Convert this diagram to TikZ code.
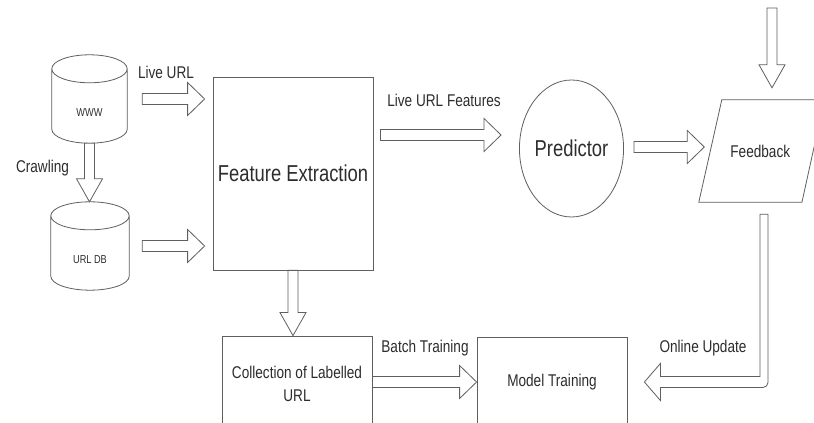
\documentclass[tikz,border=0pt]{standalone}
\usepackage{fontspec}
\setmainfont{Liberation Sans}[FakeStretch=0.8]
\usetikzlibrary{calc,shapes.geometric}
\definecolor{ln}{RGB}{95,95,95}
\definecolor{tx}{RGB}{45,45,45}
\tikzset{
  blk/.style={draw=ln, line width=0.8pt, fill=white, line join=miter},
  outl/.style={draw=ln, line width=0.8pt},
  box/.style={draw=ln, line width=0.8pt, rectangle, inner sep=0pt, text=tx, align=center},
  ghost/.style={inner sep=0pt, rectangle},
  lbl/.style={text=tx, font=\fontsize{17}{20}\selectfont, inner sep=0pt},
  small/.style={text=tx, font=\fontsize{11.5}{13}\selectfont, inner sep=0pt},
}
% horizontal hollow block arrow (y taken from first point)
\newcommand{\hblock}[2]{%
  \draw[blk] let \p1=(#1), \p2=(#2) in
    (\x1,\y1+5.5pt) -- (\x2-17pt,\y1+5.5pt) -- (\x2-17pt,\y1+16.5pt) -- (\x2,\y1)
    -- (\x2-17pt,\y1-16.5pt) -- (\x2-17pt,\y1-5.5pt) -- (\x1,\y1-5.5pt) -- cycle;}
% vertical (downward) hollow block arrow (x taken from first point)
\newcommand{\vblock}[2]{%
  \draw[blk] let \p1=(#1), \p2=(#2) in
    (\x1-5pt,\y1) -- (\x1-5pt,\y2+23pt) -- (\x1-13pt,\y2+23pt) -- (\x1,\y2)
    -- (\x1+13pt,\y2+23pt) -- (\x1+5pt,\y2+23pt) -- (\x1+5pt,\y1) -- cycle;}
% database cylinder drawn round a ghost node
\newcommand{\dbcyl}[1]{%
  \draw[blk] let \p1=(#1.north west), \p2=(#1.south east), \n1={(\x2-\x1)/2} in
    (\x1,\y1-14pt) -- (\x1,\y2+14pt)
    arc[start angle=180,end angle=360,x radius=\n1,y radius=14pt]
    -- (\x2,\y1-14pt)
    arc[start angle=0,end angle=180,x radius=\n1,y radius=14pt] -- cycle
    (\x1,\y1-14pt) arc[start angle=180,end angle=360,x radius=\n1,y radius=14pt];}
\begin{document}
\begin{tikzpicture}[x=1pt,y=1pt]
\useasboundingbox (0,0) rectangle (814,423);
\clip (0,0) rectangle (814,423);
\fill[white] (0,0) rectangle (814,423);

% databases
\node[ghost, minimum width=75, minimum height=88] (www) at (89.5,324) {};
\node[ghost, minimum width=78, minimum height=88] (db) at (90,177) {};
\dbcyl{www}
\dbcyl{db}
\node[small] (wwwt) at ([yshift=-14]www.center) {WWW};
\node[small] (dbt) at ([yshift=-14]db.center) {URL DB};

% main boxes
\node[box, minimum width=160, minimum height=193, font=\fontsize{23}{26}\selectfont] (fe) at (293,249.5) {Feature Extraction};
\node[ellipse, draw=ln, line width=0.8pt, minimum width=93, minimum height=137, inner sep=0pt, text=tx, font=\fontsize{23}{26}\selectfont] (pred) at (571.5,274.5) {Predictor};
\node[ghost, minimum width=102.5, minimum height=102] (fb) at (761.75,272) {};
\draw[outl] ([xshift=11.5]fb.north west) -- ([xshift=11.25]fb.north east) -- ([xshift=-11.25]fb.south east) -- ([xshift=-11.5]fb.south west) -- cycle;
\node[lbl] (fbt) at ([xshift=-1.5]fb.center) {Feedback};
\node[box, minimum width=150, minimum height=95, font=\fontsize{17}{23}\selectfont] (coll) at (297,39.5) {Collection of Labelled\\URL};
\node[box, minimum width=150, minimum height=90, font=\fontsize{17}{20}\selectfont] (mt) at (552,41) {Model Training};

% connectors
\hblock{[xshift=15]www.east}{[xshift=-8]fe.west}
\hblock{[xshift=13]db.east}{[xshift=-8]fe.west}
\vblock{www.south}{db.north}
\hblock{[xshift=7,yshift=38.5]fe.east}{[xshift=-18]pred.west}
\hblock{[xshift=10,yshift=1.5]pred.east}{[xshift=-6]fb.west}
\coordinate (fbsrc) at (772,415);
\vblock{fbsrc}{[xshift=10.25,yshift=12]fb.north}
\vblock{fe.south}{coll.north}
\hblock{[yshift=1.5]coll.east}{mt.west}
\draw[blk] let \p1=([xshift=2.25,yshift=-12]fb.south), \p2=([xshift=17]mt.east) in
  (\x1-4pt,\y1) -- (\x1-4pt,\y2+5.5pt) -- (\x2+16pt,\y2+5.5pt) -- (\x2+16pt,\y2+18.5pt)
  -- (\x2,\y2) -- (\x2+16pt,\y2-18.5pt) -- (\x2+16pt,\y2-5.5pt)
  [rounded corners=5pt] -- (\x1+4pt,\y2-5.5pt) [sharp corners] -- (\x1+4pt,\y1) -- cycle;

% labels
\node[lbl] (l1) at (166,351) {Live URL};
\node[lbl] (l2) at (444,323) {Live URL Features};
\node[lbl] (l3) at (42.5,255) {Crawling};
\node[lbl] (l4) at (425,75) {Batch Training};
\node[lbl] (l5) at (703,75) {Online Update};
\end{tikzpicture}
\end{document}
